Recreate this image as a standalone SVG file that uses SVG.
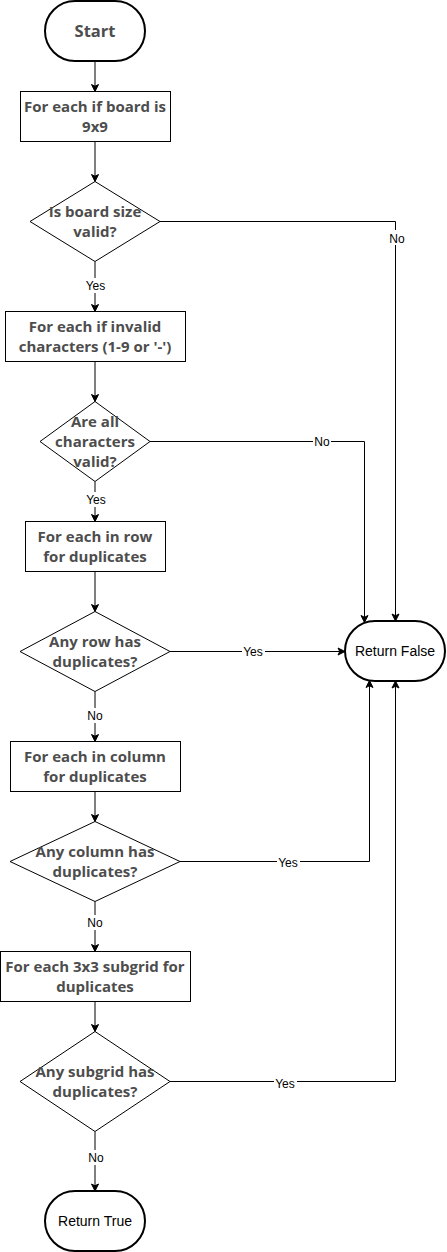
<svg xmlns="http://www.w3.org/2000/svg" width="447" height="1252" viewBox="0 0 447 1252">
<defs>
<marker id="arr" markerUnits="userSpaceOnUse" markerWidth="8" markerHeight="8" refX="7" refY="3.5" orient="auto" overflow="visible">
<path d="M0,0 L7,3.5 L0,7 L1.75,3.5 Z" fill="#000" stroke="#000" stroke-width="1"/>
</marker>
</defs>
<style>
.shape{fill:#fff;stroke:#000;stroke-width:1}
.term{fill:#fff;stroke:#000;stroke-width:2}
.bt{font-family:"Open Sans","Liberation Sans",sans-serif;font-weight:bold;font-size:15px;fill:#4d4d4d;text-anchor:middle}
.nt{font-family:"Liberation Sans",Arial,sans-serif;font-size:14px;fill:#000;text-anchor:middle}
.edge{fill:none;stroke:#000;stroke-width:1}
.lbg{fill:#fff}
.lt{font-family:"Liberation Sans",Arial,sans-serif;font-size:12px;fill:#000;text-anchor:middle}
</style>
<rect width="447" height="1252" fill="#fff"/>

<g id="connectors">
<path class="edge" d="M95,62 L95,91.5" marker-end="url(#arr)"/>
<path class="edge" d="M95,141.5 L95,181.5" marker-end="url(#arr)"/>
<path class="edge" d="M95,261.5 L95,311.5" marker-end="url(#arr)"/>
<path class="edge" d="M160,221.5 L395.5,221.5 L395.5,621" marker-end="url(#arr)"/>
<path class="edge" d="M95,361.5 L95,401.5" marker-end="url(#arr)"/>
<path class="edge" d="M150,441.5 L364.5,441.5 L364.5,622.5" marker-end="url(#arr)"/>
<path class="edge" d="M95,481.5 L95,521.5" marker-end="url(#arr)"/>
<path class="edge" d="M95,571.5 L95,611.5" marker-end="url(#arr)"/>
<path class="edge" d="M170,651.5 L345,651.5" marker-end="url(#arr)"/>
<path class="edge" d="M95,691.5 L95,741.5" marker-end="url(#arr)"/>
<path class="edge" d="M95,791.5 L95,821.5" marker-end="url(#arr)"/>
<path class="edge" d="M180,861.5 L369.5,861.5 L369.5,680.5" marker-end="url(#arr)"/>
<path class="edge" d="M95,901.5 L95,951.5" marker-end="url(#arr)"/>
<path class="edge" d="M95,1001.5 L95,1031.5" marker-end="url(#arr)"/>
<path class="edge" d="M170,1081.5 L395.5,1081.5 L395.5,681" marker-end="url(#arr)"/>
<path class="edge" d="M95,1131.5 L95,1191" marker-end="url(#arr)"/>

<g id="labels">
<rect class="lbg" x="384" y="230" width="24" height="15"/>
<text class="lt" x="397" y="243">No</text>
<rect class="lbg" x="84" y="278" width="23" height="15"/>
<text class="lt" x="95.5" y="290">Yes</text>
<rect class="lbg" x="313" y="434" width="18" height="15"/>
<text class="lt" x="322" y="446">No</text>
<rect class="lbg" x="84" y="492" width="23" height="15"/>
<text class="lt" x="96" y="504">Yes</text>
<rect class="lbg" x="242" y="644" width="23" height="15"/>
<text class="lt" x="253" y="656">Yes</text>
<rect class="lbg" x="86" y="708" width="18" height="15"/>
<text class="lt" x="95" y="720">No</text>
<rect class="lbg" x="277" y="855" width="23" height="15"/>
<text class="lt" x="288" y="867">Yes</text>
<rect class="lbg" x="86" y="915" width="18" height="15"/>
<text class="lt" x="95" y="927">No</text>
<rect class="lbg" x="274" y="1075" width="23" height="15"/>
<text class="lt" x="285" y="1087.5">Yes</text>
<rect class="lbg" x="87" y="1150" width="18" height="15"/>
<text class="lt" x="96" y="1162">No</text>
</g>
</g>

<g id="start">
<rect class="term" x="45" y="1" width="100" height="60" rx="30" ry="30"/>
<text class="bt" x="95" y="37" style="font-size:16.5px">Start</text>
</g>
<g id="check-size">
<rect class="shape" x="20.5" y="91.5" width="150" height="50"/>
<text class="bt" x="95" y="112">For each if board is</text>
<text class="bt" x="95" y="132">9x9</text>
</g>
<g id="size-valid">
<polygon class="shape" points="95,181.5 160,221.5 95,261.5 30,221.5"/>
<text class="bt" x="95" y="216.8">Is board size</text>
<text class="bt" x="95" y="236.8">valid?</text>
</g>
<g id="check-chars">
<rect class="shape" x="5.5" y="311.5" width="180" height="50"/>
<text class="bt" x="95" y="332">For each if invalid</text>
<text class="bt" x="95" y="352">characters (1-9 or '-')</text>
</g>
<g id="chars-valid">
<polygon class="shape" points="95,401.5 150,441.5 95,481.5 40,441.5"/>
<text class="bt" x="95" y="426.8">Are all</text>
<text class="bt" x="95" y="446.8">characters</text>
<text class="bt" x="95" y="466.8">valid?</text>
</g>
<g id="check-rows">
<rect class="shape" x="25.5" y="521.5" width="140" height="50"/>
<text class="bt" x="95" y="542">For each in row</text>
<text class="bt" x="95" y="562">for duplicates</text>
</g>
<g id="row-dup">
<polygon class="shape" points="95,611.5 170,651.5 95,691.5 20,651.5"/>
<text class="bt" x="95" y="646.8">Any row has</text>
<text class="bt" x="95" y="666.8">duplicates?</text>
</g>
<g id="return-false">
<rect class="term" x="345" y="621" width="100" height="60" rx="30" ry="30"/>
<text class="nt" x="395" y="656">Return False</text>
</g>
<g id="check-cols">
<rect class="shape" x="10.5" y="741.5" width="170" height="50"/>
<text class="bt" x="95" y="762">For each in column</text>
<text class="bt" x="95" y="782">for duplicates</text>
</g>
<g id="col-dup">
<polygon class="shape" points="95,821.5 180,861.5 95,901.5 10,861.5"/>
<text class="bt" x="95" y="856.8">Any column has</text>
<text class="bt" x="95" y="876.8">duplicates?</text>
</g>
<g id="check-grids">
<rect class="shape" x="0.5" y="951.5" width="190" height="50"/>
<text class="bt" x="95" y="972">For each 3x3 subgrid for</text>
<text class="bt" x="95" y="992">duplicates</text>
</g>
<g id="grid-dup">
<polygon class="shape" points="95,1031.5 170,1081.5 95,1131.5 20,1081.5"/>
<text class="bt" x="95" y="1076.8">Any subgrid has</text>
<text class="bt" x="95" y="1096.8">duplicates?</text>
</g>
<g id="return-true">
<rect class="term" x="45" y="1191" width="100" height="60" rx="30" ry="30"/>
<text class="nt" x="95" y="1226">Return True</text>
</g>
</svg>
